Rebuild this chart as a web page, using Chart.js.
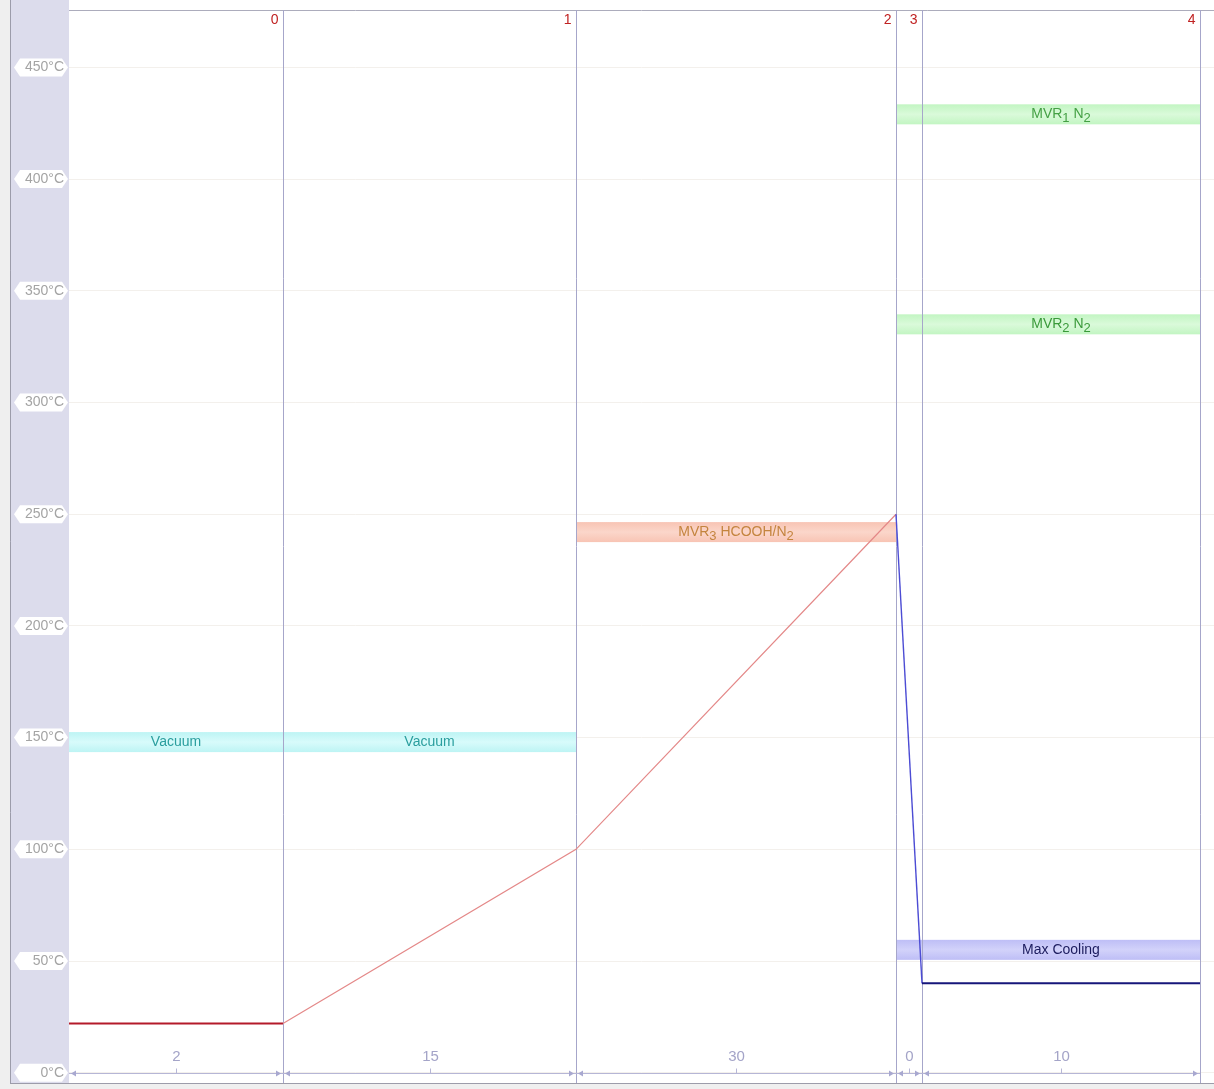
<!DOCTYPE html>
<html>
<head>
<meta charset="utf-8">
<title>Temperature profile</title>
<script src="https://cdn.jsdelivr.net/npm/chart.js@4"></script>
<style>
    html, body { margin: 0; padding: 0; background: #efefef; }
    #wrap { width: 1214px; height: 1089px; }
</style>
</head>
<body>
<div id="wrap"><canvas id="profile-chart" width="1214" height="1089"></canvas></div>
<script>
// program segments (numbered 0..4 at the top of the chart)
const segmentMinutes = [2, 15, 30, 0, 10];
const segmentSpan = [2.14, 2.93, 3.20, 0.26, 2.78];   // relative width each segment gets on screen
const startTemp = 22;
const segmentEndTemp = [22, 100, 250, 40, 40];

// y axis
const yTickValues = [0, 50, 100, 150, 200, 250, 300, 350, 400, 450];

// gas / vacuum bands ("_" marks the next char as subscript)
const bandNames = ['Vacuum', 'MVR_3 HCOOH/N_2', 'MVR_1 N_2', 'MVR_2 N_2', 'Max Cooling'];
const bandTemp = [148, 242, 429, 335, 55];
const bandFirstSeg = [0, 2, 3, 3, 3];
const bandLastSeg = [1, 2, 4, 4, 4];

// styles
const FONT = '"Liberation Sans", Arial, sans-serif';
const segmentColors = ['#b41a2a', '#e48888', '#e48888', '#4c4cd4', '#16167a'];
const segmentWidths = [2, 1.2, 1.2, 1.4, 2];
const bandEdge = ['#bdf4f4', '#f8c4b4', '#c2f5c2', '#c2f5c2', '#bebef6'];
const bandMid = ['#d8fbfb', '#fbd6ca', '#dafada', '#dafada', '#d2d2fa'];
const bandText = ['#2a9e9e', '#c4843e', '#44a044', '#3a9a3a', '#1c1c5e'];

// segment boundaries along x
const bounds = [0];
segmentSpan.forEach((s, i) => bounds.push(bounds[i] + s));
const profilePoints = [{ x: 0, y: startTemp }];
segmentEndTemp.forEach((t, i) => profilePoints.push({ x: bounds[i + 1], y: t }));

function strokeLine(ctx, x1, y1, x2, y2) {
    ctx.beginPath();
    ctx.moveTo(x1, y1);
    ctx.lineTo(x2, y2);
    ctx.stroke();
}

// draws text with "_x" subscripts, centred on cx
function drawRichText(ctx, text, cx, cy, size) {
    const parts = [];
    for (let i = 0; i < text.length; i++) {
        if (text[i] === '_') { parts.push({ t: text[i + 1], sub: true }); i++; }
        else if (parts.length && !parts[parts.length - 1].sub) parts[parts.length - 1].t += text[i];
        else parts.push({ t: text[i], sub: false });
    }
    let total = 0;
    parts.forEach(p => {
        ctx.font = `${p.sub ? size - 1 : size}px ${FONT}`;
        p.w = ctx.measureText(p.t).width;
        total += p.w;
    });
    let x = cx - total / 2;
    ctx.textAlign = 'left';
    ctx.textBaseline = 'middle';
    parts.forEach(p => {
        ctx.font = `${p.sub ? size - 1 : size}px ${FONT}`;
        ctx.fillText(p.t, x, p.sub ? cy + 4 : cy);
        x += p.w;
    });
}

const profilePlugin = {
    id: 'profileDecor',
    beforeDraw(chart) {
        const { ctx, chartArea: a, scales: { y } } = chart;
        ctx.save();
        ctx.fillStyle = '#efefef';
        ctx.fillRect(0, 0, chart.width, chart.height);
        ctx.fillStyle = '#ffffff';
        ctx.fillRect(y.left, 0, chart.width - y.left, a.bottom);
        ctx.fillStyle = '#dcdcec';
        ctx.fillRect(y.left, 0, a.left - y.left, a.bottom);

        ctx.lineWidth = 1;
        ctx.strokeStyle = '#9c9caa';
        strokeLine(ctx, y.left + 0.5, 0, y.left + 0.5, a.bottom + 0.5);
        strokeLine(ctx, y.left, a.bottom + 0.5, chart.width, a.bottom + 0.5);
        ctx.strokeStyle = '#acacbc';
        strokeLine(ctx, a.left, a.top + 0.5, chart.width, a.top + 0.5);

        // white lozenges behind the tick labels
        ctx.fillStyle = '#ffffff';
        y.ticks.forEach(t => {
            const py = y.getPixelForValue(t.value);
            const l = y.left + 4, r = a.left - 1, h = 9;
            ctx.beginPath();
            ctx.moveTo(l, py);
            ctx.lineTo(l + 6, py - h);
            ctx.lineTo(r - 6, py - h);
            ctx.lineTo(r, py);
            ctx.lineTo(r - 6, py + h);
            ctx.lineTo(l + 6, py + h);
            ctx.closePath();
            ctx.fill();
        });
        ctx.restore();
    },
    beforeDatasetsDraw(chart) {
        const { ctx, chartArea: a, scales: { x, y } } = chart;
        ctx.save();

        // bands
        bandNames.forEach((name, b) => {
            const cy = y.getPixelForValue(bandTemp[b]);
            const x1 = x.getPixelForValue(bounds[bandFirstSeg[b]]);
            const x2 = x.getPixelForValue(bounds[bandLastSeg[b] + 1]);
            const grad = ctx.createLinearGradient(0, cy - 10, 0, cy + 10);
            grad.addColorStop(0, bandEdge[b]);
            grad.addColorStop(0.5, bandMid[b]);
            grad.addColorStop(1, bandEdge[b]);
            ctx.fillStyle = grad;
            ctx.fillRect(x1, cy - 10, x2 - x1, 20);
            ctx.fillStyle = bandText[b];
            for (let s = bandFirstSeg[b]; s <= bandLastSeg[b]; s++) {
                if (segmentMinutes[s] === 0) continue;
                const cx = (x.getPixelForValue(bounds[s]) + x.getPixelForValue(bounds[s + 1])) / 2;
                drawRichText(ctx, name, cx, cy, 14);
            }
        });

        // segment boundaries + numbers
        ctx.lineWidth = 1;
        ctx.strokeStyle = '#a6a6ca';
        ctx.fillStyle = '#c02222';
        ctx.font = `14px ${FONT}`;
        ctx.textAlign = 'right';
        ctx.textBaseline = 'middle';
        for (let i = 1; i < bounds.length; i++) {
            const px = Math.round(x.getPixelForValue(bounds[i])) + 0.5;
            strokeLine(ctx, px, a.top, px, a.bottom);
            ctx.fillText(String(i - 1), px - 5, a.top + 10);
        }
        ctx.restore();
    },
    afterDatasetsDraw(chart) {
        const { ctx, scales: { x, y } } = chart;
        const y0 = Math.round(y.getPixelForValue(0)) + 0.5;
        ctx.save();
        ctx.strokeStyle = '#b6b6d6';
        ctx.fillStyle = '#a8a8d0';
        ctx.lineWidth = 1;
        segmentMinutes.forEach((m, i) => {
            const xs = x.getPixelForValue(bounds[i]);
            const xe = x.getPixelForValue(bounds[i + 1]);
            const cx = Math.round((xs + xe) / 2) + 0.5;
            strokeLine(ctx, xs, y0, xe, y0);
            strokeLine(ctx, cx, y0 - 5, cx, y0);
            // little arrow heads at both ends
            ctx.beginPath();
            ctx.moveTo(xs + 2, y0);
            ctx.lineTo(xs + 7, y0 - 3);
            ctx.lineTo(xs + 7, y0 + 3);
            ctx.closePath();
            ctx.fill();
            ctx.beginPath();
            ctx.moveTo(xe - 2, y0);
            ctx.lineTo(xe - 7, y0 - 3);
            ctx.lineTo(xe - 7, y0 + 3);
            ctx.closePath();
            ctx.fill();
            ctx.font = `15px ${FONT}`;
            ctx.textAlign = 'center';
            ctx.textBaseline = 'middle';
            ctx.fillStyle = '#a4a4c8';
            ctx.fillText(String(m), cx, y0 - 17);
            ctx.fillStyle = '#a8a8d0';
        });
        ctx.restore();
    }
};

new Chart(document.getElementById('profile-chart'), {
    type: 'line',
    data: {
        datasets: [{
            label: 'Temperature',
            data: profilePoints,
            borderColor: segmentColors[0],
            borderWidth: 1.5,
            pointRadius: 0,
            tension: 0,
            fill: false,
            segment: {
                borderColor: c => segmentColors[c.p0DataIndex],
                borderWidth: c => segmentWidths[c.p0DataIndex]
            }
        }]
    },
    options: {
        responsive: false,
        animation: false,
        events: [],
        layout: { padding: { left: 10, top: 10, right: 0, bottom: 6 } },
        plugins: { legend: { display: false }, tooltip: { enabled: false } },
        scales: {
            x: { type: 'linear', display: false, min: 0, max: 11.45 },
            y: {
                min: -4.6,
                max: 475.7,
                afterBuildTicks: scale => { scale.ticks = yTickValues.map(v => ({ value: v })); },
                afterFit: scale => {
                    scale.width = 59;
                    scale.paddingTop = 0;
                    scale.paddingBottom = 0;
                },
                border: { display: false },
                grid: { color: '#f3f0ec', drawTicks: false },
                ticks: {
                    color: '#a4a4a4',
                    padding: 5,
                    font: { family: FONT, size: 14 },
                    callback: v => v + '°C'
                }
            }
        }
    },
    plugins: [profilePlugin]
});
</script>
</body>
</html>
